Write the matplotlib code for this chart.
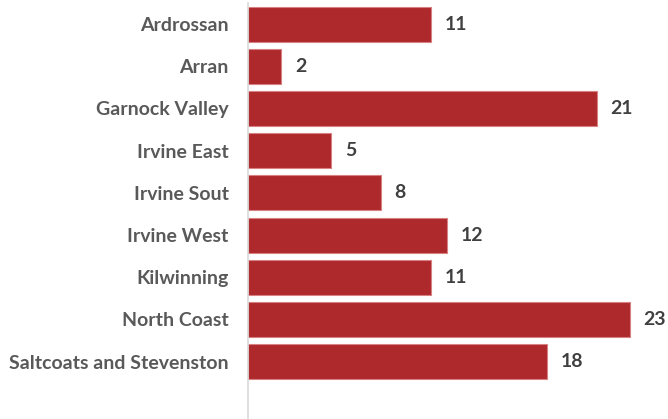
import matplotlib.pyplot as plt

# datos
areas = ['Ardrossan', 'Arran', 'Garnock Valley', 'Irvine East', 'Irvine Sout',
         'Irvine West', 'Kilwinning', 'North Coast', 'Saltcoats and Stevenston']
valores = [11, 2, 21, 5, 8, 12, 11, 23, 18]

plt.rcParams['font.family'] = ['Lato', 'DejaVu Sans']

figura = plt.figure(figsize=(6.68, 4.19), dpi=100)
ax = figura.add_axes([248 / 668, 0, 420 / 668, 416 / 419])

ax.barh(range(len(areas)), valores, height=0.83, color='#AD292C',
        edgecolor='#D98083', linewidth=0.8)
ax.set_xlim(0, 25.3)
ax.set_ylim(9.36, -0.5)

for i, v in enumerate(valores):
    ax.annotate(str(v), (v, i), xytext=(10, 0), textcoords='offset points',
                va='center', ha='left', fontsize=14, fontweight='bold', color='#404040')

ax.set_yticks(range(len(areas)))
ax.set_yticklabels(areas, fontsize=14, fontweight='bold', color='#595959')
ax.tick_params(axis='y', length=0, pad=14)
ax.set_xticks([])
for lado in ['top', 'right', 'bottom']:
    ax.spines[lado].set_visible(False)
ax.spines['left'].set_color('#D9D9D9')
ax.spines['left'].set_linewidth(1.2)

plt.savefig('out.png', dpi=100)
plt.close()
